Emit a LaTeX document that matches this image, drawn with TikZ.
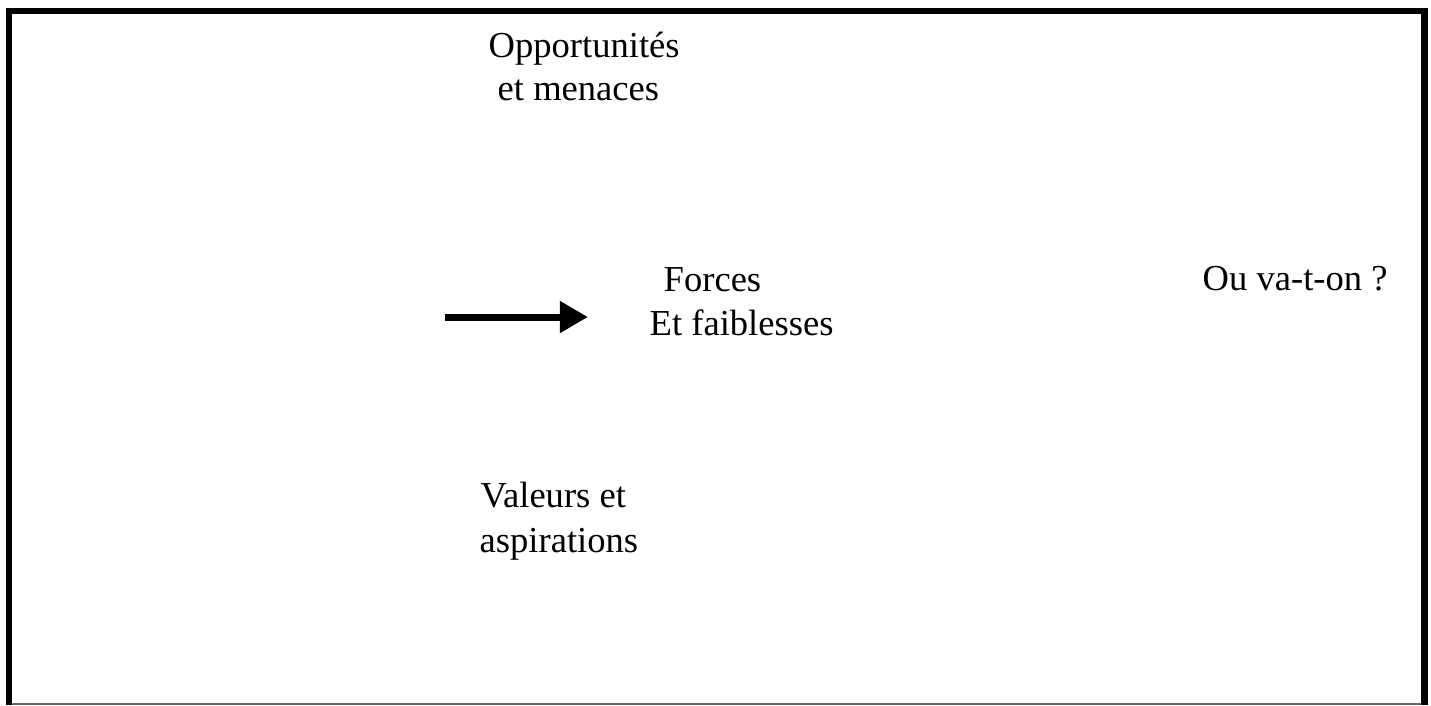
\documentclass[tikz,border=0pt]{standalone}
\usepackage{fontspec}
\setmainfont{Liberation Serif}
\usetikzlibrary{arrows.meta}

\begin{document}
\begin{tikzpicture}[x=0.01cm,y=-0.01cm,
  lbl/.style={anchor=base west,inner sep=0pt,font=\fontsize{10.4}{12.5}\selectfont},
  frame/.style={line width=1.9pt,black}]
  \useasboundingbox (0,0) rectangle (1431,705);
  % cadre
  \draw[frame] (9,705) -- (9,11) -- (1424.5,11) -- (1424.5,705);
  \draw[black!60,line width=0.4pt] (12,704) -- (1421,704);
  % textes
  \node[lbl] (oppA) at (488,57) {Opportunités};
  \node[lbl] (oppB) at (497,100) {et menaces};
  \node[lbl] (forA) at (663,291) {Forces};
  \node[lbl] (forB) at (649,335) {Et faiblesses};
  \node[lbl] (ouva) at (1202,290) {Ou va-t-on ?};
  \node[lbl] (valA) at (480,507) {Valeurs et};
  \node[lbl] (valB) at (479,552) {aspirations};
  % fleche
  \coordinate (arrTail) at (445,317);
  \coordinate (arrHead) at (588,317);
  \draw[line width=2pt,-{Triangle[length=8pt,width=8.6pt]}] (arrTail) -- (arrHead);
\end{tikzpicture}
\end{document}
